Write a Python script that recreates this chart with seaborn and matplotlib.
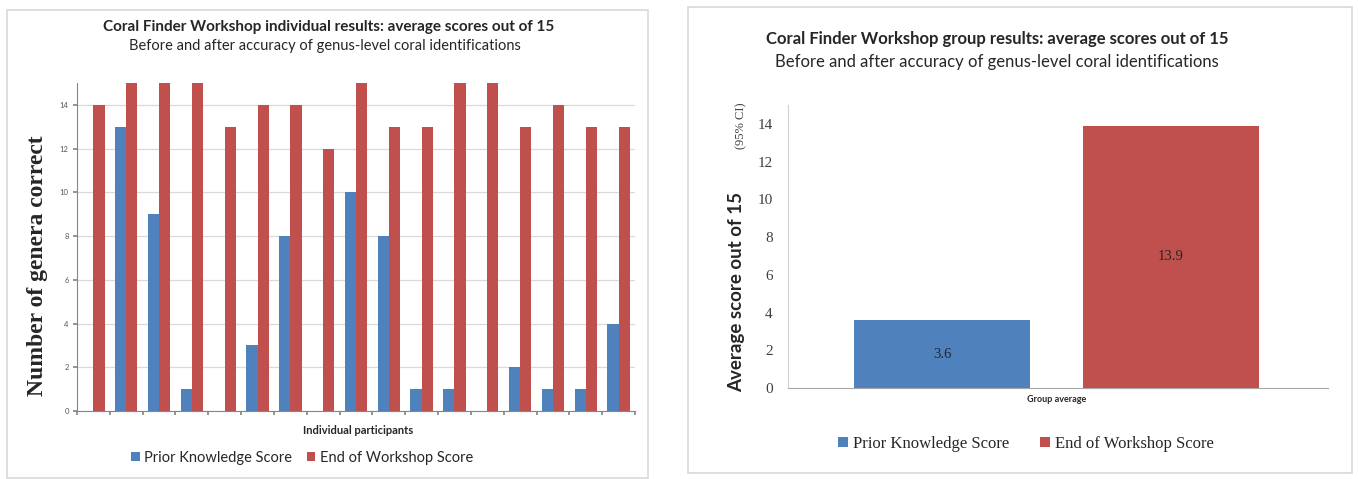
import numpy as np
import pandas as pd
import matplotlib
matplotlib.use("Agg")
import matplotlib.pyplot as plt
import seaborn as sns
from matplotlib.patches import Rectangle

# 데이터 (individual results)
participants = [str(i) for i in range(1, 18)]
prior_scores = [0, 13, 9, 1, 0, 3, 8, 0, 10, 8, 1, 1, 0, 2, 1, 1, 4]
end_scores = [14, 15, 15, 15, 13, 14, 14, 12, 15, 13, 13, 15, 15, 13, 14, 13, 13]

# 데이터 (group average)
group_label = ["Group average"]
prior_avg = [3.6]
end_avg = [13.9]

series_names = ["Prior Knowledge Score", "End of Workshop Score"]
colors = ["#4F81BD", "#C0504D"]

sns.set_theme(style="white")
SANS = ["Lato", "DejaVu Sans"]
SERIF = ["Liberation Serif", "DejaVu Serif"]
plt.rcParams["font.family"] = SANS

indiv = pd.DataFrame({
    "participant": participants * 2,
    "series": [series_names[0]] * 17 + [series_names[1]] * 17,
    "score": prior_scores + end_scores,
})
group = pd.DataFrame({
    "group": group_label * 2,
    "series": series_names,
    "score": prior_avg + end_avg,
})

W, H = 1358, 479
fig = plt.figure(figsize=(W / 100, H / 100), dpi=100)


def fx(px):
    return px / W


def fy(py):
    return 1 - py / H


# 패널 테두리
fig.patches.append(Rectangle((fx(7), fy(478)), fx(648 - 7), fy(10) - fy(478),
                             transform=fig.transFigure, fill=False, ec="#d9d9d9", lw=1.2))
fig.patches.append(Rectangle((fx(688), fy(473)), fx(1352 - 688), fy(7) - fy(473),
                             transform=fig.transFigure, fill=False, ec="#d9d9d9", lw=1.2))

# ---------------- left: individual results ----------------
ax1 = fig.add_axes([fx(77), fy(411), fx(635 - 77), fy(83) - fy(411)])
sns.barplot(data=indiv, x="participant", y="score", hue="series", palette=colors,
            width=0.68, gap=0, saturation=1, linewidth=0, ax=ax1)
ax1.get_legend().remove()
ax1.set_ylim(0, 15)
ax1.set_xlim(-0.5, 16.5)
ax1.set_yticks(range(0, 15, 2))
ax1.set_xticks(np.arange(-0.5, 17, 1))
ax1.set_xticklabels([])
ax1.tick_params(axis="y", labelsize=5.5, labelcolor="#595959", length=3, color="#868686",
                direction="out", left=True, pad=3)
ax1.tick_params(axis="x", length=3, color="#868686", direction="out", bottom=True)
ax1.yaxis.grid(True, color="#d9d9d9", lw=0.9)
ax1.set_axisbelow(True)
for s in ["top", "right"]:
    ax1.spines[s].set_visible(False)
for s in ["left", "bottom"]:
    ax1.spines[s].set_color("#868686")
    ax1.spines[s].set_linewidth(0.8)
ax1.set_xlabel("")
ax1.set_ylabel("")
fig.text(fx(38), fy(266), "Number of genera correct", rotation=90, ha="center", va="center",
         family=SERIF, fontweight="bold", fontsize=17)
fig.text(fx(358), fy(430), "Individual participants", ha="center", va="center",
         fontweight="bold", fontsize=8)
fig.text(fx(329), fy(27), "Coral Finder Workshop individual results: average scores out of 15",
         ha="center", va="center", fontweight="bold", fontsize=11)
fig.text(fx(325), fy(46), "Before and after accuracy of genus-level coral identifications",
         ha="center", va="center", fontsize=10.5, color="#262626")
h1, l1 = ax1.get_legend_handles_labels()
fig.legend(h1, l1, loc="center", bbox_to_anchor=(fx(302), fy(458)), ncol=2, frameon=False,
           fontsize=10.5, handlelength=0.6, handleheight=0.6, handletextpad=0.3,
           columnspacing=1.0, labelcolor="#262626")

# ---------------- right: group average ----------------
ax2 = fig.add_axes([fx(788), fy(388), fx(1328 - 788), fy(105) - fy(388)])
sns.barplot(data=group, x="group", y="score", hue="series", palette=colors,
            width=0.8, gap=0.23, saturation=1, linewidth=0, ax=ax2)
ax2.get_legend().remove()
ax2.set_ylim(0, 15)
ax2.set_xlim(-0.469, 0.474)
ax2.set_yticks(range(0, 15, 2))
ax2.tick_params(axis="y", labelsize=11, labelcolor="#404040", length=0, pad=11)
for lab in ax2.get_yticklabels():
    lab.set_family(SERIF)
ax2.set_xticks([])
for s in ["top", "right"]:
    ax2.spines[s].set_visible(False)
ax2.spines["left"].set_color("#d0d0d0")
ax2.spines["bottom"].set_color("#a6a6a6")
ax2.spines["left"].set_linewidth(0.8)
ax2.spines["bottom"].set_linewidth(0.8)
for cont in ax2.containers:
    ax2.bar_label(cont, fmt="%.1f", label_type="center", fontsize=10.5,
                  family=SERIF, color="#262626")
ax2.set_xlabel("")
ax2.set_ylabel("")
fig.text(fx(1057), fy(400), "Group average", ha="center", va="center", fontsize=6.5,
         fontweight="bold", color="#262626")
fig.text(fx(737), fy(292), "Average score out of 15", rotation=90, ha="center", va="center",
         fontweight="bold", fontsize=13.5)
fig.text(fx(741), fy(126), "(95% CI)", rotation=90, ha="center", va="center",
         family=SERIF, fontsize=9, color="#404040")
fig.text(fx(997), fy(39), "Coral Finder Workshop group results: average scores out of 15",
         ha="center", va="center", fontweight="bold", fontsize=12)
fig.text(fx(997), fy(62), "Before and after accuracy of genus-level coral identifications",
         ha="center", va="center", fontsize=12, color="#262626")
h2, l2 = ax2.get_legend_handles_labels()
fig.legend(h2, l2, loc="center", bbox_to_anchor=(fx(1026), fy(444)), ncol=2, frameon=False,
           prop={"family": SERIF, "size": 12}, handlelength=0.6, handleheight=0.6,
           handletextpad=0.3, columnspacing=1.8, labelcolor="#262626")

fig.savefig("out.png", dpi=100)
